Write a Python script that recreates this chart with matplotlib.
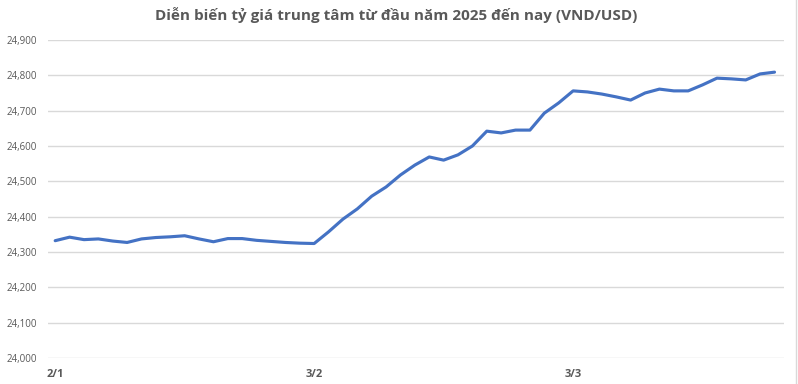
import numpy as np
import matplotlib.pyplot as plt
from matplotlib.lines import Line2D
from matplotlib.ticker import FuncFormatter

plt.rcParams['font.family'] = ['Open Sans', 'DejaVu Sans']

# central rate VND/USD, one value per published day
rates = [24332, 24342, 24335, 24337, 24331, 24327, 24337, 24341, 24343, 24346,
         24337, 24329, 24338, 24338, 24333, 24330, 24327, 24325, 24324,
         24357, 24393, 24422, 24458, 24484, 24518, 24546, 24569, 24560, 24575,
         24600, 24642, 24637, 24645, 24645, 24693, 24722,
         24756, 24753, 24747, 24739, 24730, 24750, 24761, 24756, 24756, 24773,
         24792, 24790, 24787, 24804, 24809]
tick_pos = [0, 18, 36]
tick_labels = ['2/1', '3/2', '3/3']
title = 'Diễn biến tỷ giá trung tâm từ đầu năm 2025 đến nay (VND/USD)'

fig = plt.figure(figsize=(7.98, 3.84), dpi=100)
ax = fig.add_axes([48/798, 1 - 358/384, (784 - 48)/798, (358 - 40)/384])

x = np.arange(len(rates))
ax.plot(x, rates, color='#4472C4', lw=2.25, solid_capstyle='round',
        solid_joinstyle='round', zorder=3)

ax.set_ylim(24000, 24900)
ax.set_yticks(np.arange(24000, 24901, 100))
ax.yaxis.set_major_formatter(FuncFormatter(lambda v, p: f'{int(v):,}'))
ax.set_xlim(-0.5, 50.66)
ax.set_xticks(tick_pos)
ax.set_xticklabels(tick_labels, fontweight='bold', fontsize=8, color='#595959')

ax.grid(axis='y', color='#d9d9d9', lw=1)
ax.set_axisbelow(True)
for s in ax.spines.values():
    s.set_visible(False)
ax.tick_params(axis='both', length=0)
ax.tick_params(axis='y', labelsize=7, labelcolor='#595959', pad=8)
ax.tick_params(axis='x', pad=8)

fig.text(0.497, 1 - 15/384, title, ha='center', va='center', fontsize=11,
         fontweight='bold', color='#595959')

fig.add_artist(Line2D([796/798, 796/798], [0, 1], color='#d9d9d9', lw=1,
                      transform=fig.transFigure))

fig.savefig('out.png', dpi=100)
